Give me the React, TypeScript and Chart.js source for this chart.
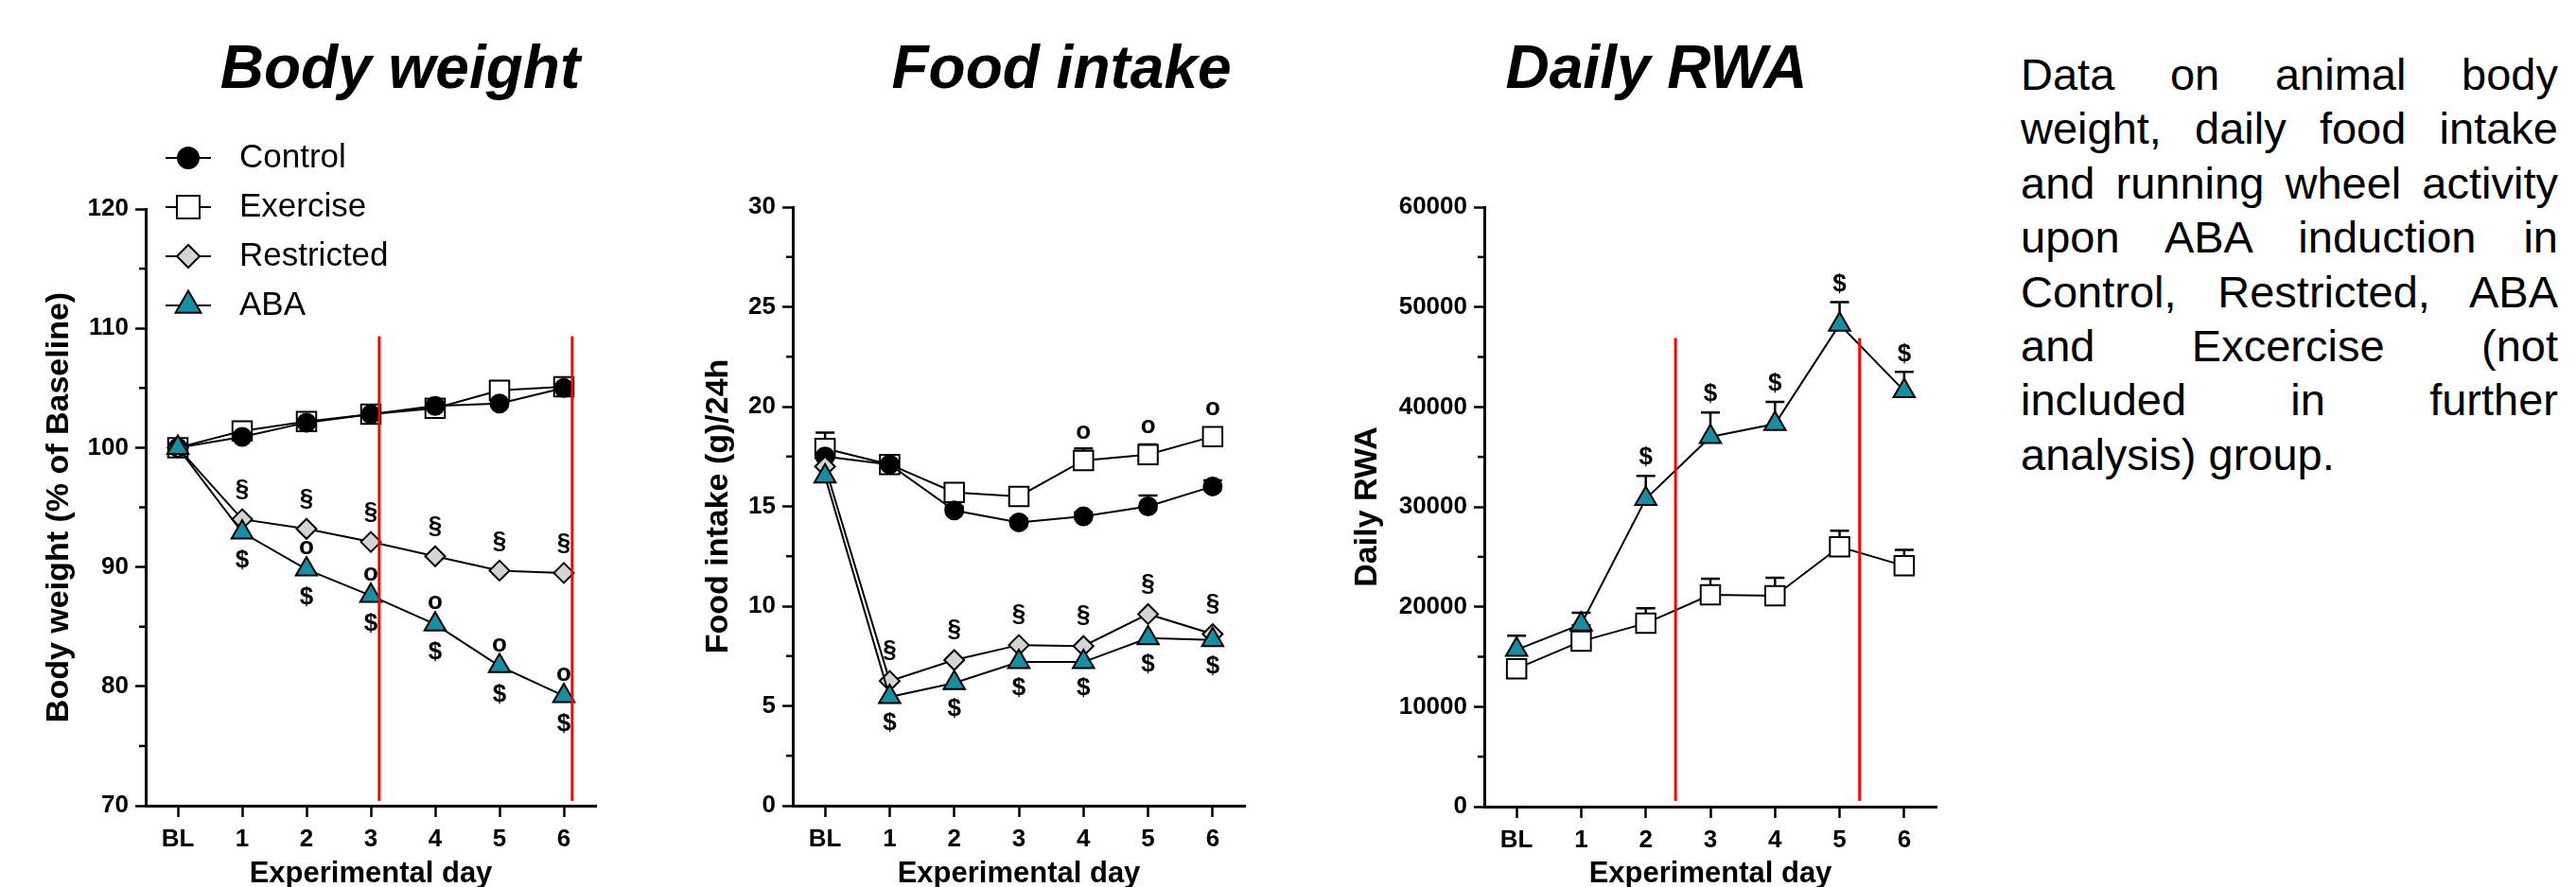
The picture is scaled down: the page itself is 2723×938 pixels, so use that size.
import React, { useEffect, useRef } from 'react';
import { Chart, registerables } from 'chart.js';
import { drawPoint } from 'chart.js/helpers';

Chart.register(...registerables);

const FONT = "'Liberation Sans', Arial, Helvetica, sans-serif";
Chart.defaults.font.family = FONT;
Chart.defaults.color = '#000';

// ---------- data ----------
const days = ['BL', '1', '2', '3', '4', '5', '6'];
const groups = ['Control', 'Exercise', 'Restricted', 'ABA'];

// Body weight (% of baseline)
const bwControl = [100, 100.9, 102.1, 102.8, 103.5, 103.7, 105.0];
const bwExercise = [100, 101.4, 102.2, 102.8, 103.3, 104.8, 105.1];
const bwRestricted = [100, 94.0, 93.2, 92.1, 90.9, 89.7, 89.5];
const bwAba = [100, 92.9, 89.8, 87.6, 85.2, 81.7, 79.2];
const bwRestrictedSig = ['', '§', '§', '§', '§', '§', '§'];
const bwAbaVsRestrictedSig = ['', '', 'o', 'o', 'o', 'o', 'o'];
const bwAbaSig = ['', '$', '$', '$', '$', '$', '$'];
const bwPhaseDays = [3.13, 6.13];
const bwPhaseSpan = [70.4, 109.35];
const bwMinorTicks = [75, 85, 95, 105, 115];

// Food intake (g)/24h
const fiControl = [17.5, 17.1, 14.8, 14.2, 14.5, 15.0, 16.0];
const fiControlSem = [0.3, 0.2, 0.2, 0.2, 0.2, 0.55, 0.3];
const fiExercise = [17.9, 17.1, 15.7, 15.5, 17.3, 17.6, 18.5];
const fiExerciseSem = [0.8, 0.2, 0.2, 0.2, 0.6, 0.5, 0.3];
const fiRestricted = [17.0, 6.25, 7.3, 8.05, 8.0, 9.6, 8.6];
const fiAba = [16.5, 5.45, 6.15, 7.2, 7.2, 8.4, 8.3];
const fiRestrictedSig = ['', '§', '§', '§', '§', '§', '§'];
const fiAbaSig = ['', '$', '$', '$', '$', '$', '$'];
const fiExerciseSig = ['', '', '', '', 'o', 'o', 'o'];
const fiMinorTicks = [2.5, 7.5, 12.5, 17.5, 22.5, 27.5];

// Daily running wheel activity
const rwaExercise = [13800, 16550, 18350, 21200, 21100, 26000, 24100];
const rwaExerciseSem = [900, 1600, 1500, 1600, 1800, 1600, 1600];
const rwaAba = [15700, 18250, 30800, 37000, 38300, 48250, 41600];
const rwaAbaSem = [1400, 1150, 2300, 2450, 2200, 2250, 1900];
const rwaAbaSig = ['', '', '$', '$', '$', '$', '$'];
const rwaPhaseDays = [2.46, 5.31];
const rwaPhaseSpan = [570, 46900];
const rwaMinorTicks = [5000, 15000, 25000, 35000, 45000, 55000];

// ---------- styles ----------
const STYLE: Record<string, any> = {
  Control: { pointStyle: 'circle', fill: '#000000', r: 9.5, lr: 11, order: 2 },
  Exercise: { pointStyle: 'rect', fill: '#ffffff', r: 14.5, lr: 17, order: 3 },
  Restricted: { pointStyle: 'rectRot', fill: '#d4d4d4', r: 10.5, lr: 12, order: 1 },
  ABA: { pointStyle: 'triangle', fill: '#178ea3', r: 13, lr: 15.5, order: 0 },
};

function lineDataset(name: string, data: number[]) {
  const s = STYLE[name];
  return {
    label: name,
    data,
    borderColor: '#000',
    borderWidth: 2,
    tension: 0,
    fill: false,
    pointStyle: s.pointStyle,
    pointRadius: s.r,
    pointHoverRadius: s.r,
    pointBackgroundColor: s.fill,
    pointBorderColor: '#000',
    pointBorderWidth: 2,
    order: s.order,
    legendRadius: s.lr,
  };
}

type Overlay = {
  red?: { days: number[]; span: number[] };
  marks?: { values: number[]; labels: string[]; dy: number }[];
  errors?: { values: number[]; sem: number[] }[];
  minor?: number[];
  legend?: boolean;
};

function overlayPlugin(ov: Overlay) {
  return {
    id: 'overlay',
    beforeDatasetsDraw(chart: any) {
      const { ctx } = chart;
      const x = chart.scales.x;
      const y = chart.scales.y;
      ctx.save();
      ctx.strokeStyle = '#000';
      ctx.lineWidth = 2.5;
      (ov.errors || []).forEach((e) => {
        e.values.forEach((v, i) => {
          const s = e.sem[i];
          if (!s) return;
          const px = x.getPixelForValue(i);
          const y0 = y.getPixelForValue(v);
          const y1 = y.getPixelForValue(v + s);
          ctx.beginPath();
          ctx.moveTo(px, y0);
          ctx.lineTo(px, y1);
          ctx.moveTo(px - 10, y1);
          ctx.lineTo(px + 10, y1);
          ctx.stroke();
        });
      });
      ctx.restore();
    },
    afterDatasetsDraw(chart: any) {
      const { ctx } = chart;
      const x = chart.scales.x;
      const y = chart.scales.y;
      ctx.save();
      if (ov.red) {
        ctx.strokeStyle = '#ff0000';
        ctx.lineWidth = 3;
        ov.red.days.forEach((d) => {
          const px = x.getPixelForValue(d);
          ctx.beginPath();
          ctx.moveTo(px, y.getPixelForValue(ov.red!.span[0]));
          ctx.lineTo(px, y.getPixelForValue(ov.red!.span[1]));
          ctx.stroke();
        });
      }
      ctx.fillStyle = '#000';
      ctx.font = `bold 26px ${FONT}`;
      ctx.textAlign = 'center';
      ctx.textBaseline = 'middle';
      (ov.marks || []).forEach((m) => {
        m.labels.forEach((lab, i) => {
          if (!lab) return;
          ctx.fillText(lab, x.getPixelForValue(i), y.getPixelForValue(m.values[i]) + m.dy);
        });
      });
      ctx.restore();
    },
    afterDraw(chart: any) {
      const { ctx, chartArea } = chart;
      const y = chart.scales.y;
      ctx.save();
      ctx.strokeStyle = '#000';
      ctx.lineWidth = 2.5;
      (ov.minor || []).forEach((v) => {
        const py = y.getPixelForValue(v);
        ctx.beginPath();
        ctx.moveTo(chartArea.left - 7, py);
        ctx.lineTo(chartArea.left, py);
        ctx.stroke();
      });
      if (ov.legend) {
        chart.data.datasets.forEach((ds: any, i: number) => {
          const yy = 167 + i * 52;
          ctx.strokeStyle = '#000';
          ctx.lineWidth = 2;
          ctx.beginPath();
          ctx.moveTo(175, yy);
          ctx.lineTo(223, yy);
          ctx.stroke();
          ctx.fillStyle = ds.pointBackgroundColor;
          drawPoint(ctx, { pointStyle: ds.pointStyle, radius: ds.legendRadius, borderWidth: 2, rotation: 0 } as any, 199, yy);
          ctx.fillStyle = '#000';
          ctx.font = `35px ${FONT}`;
          ctx.textAlign = 'left';
          ctx.textBaseline = 'middle';
          ctx.fillText(ds.label, 253, yy);
        });
      }
      ctx.restore();
    },
  };
}

type Spec = {
  datasets: any[];
  yMin: number;
  yMax: number;
  yStep: number;
  yTitle: string;
  yTitleX: number;
  area: { left: number; right: number; top: number; bottom: number };
  w: number;
  h: number;
  overlay: Overlay;
};

function buildConfig(s: Spec): any {
  return {
    type: 'line',
    data: { labels: days, datasets: s.datasets },
    plugins: [overlayPlugin(s.overlay)],
    options: {
      responsive: false,
      animation: false,
      events: [],
      layout: { padding: { left: 0, right: s.w - s.area.right, top: s.area.top, bottom: 0 } },
      plugins: { legend: { display: false }, tooltip: { enabled: false }, title: { display: false } },
      scales: {
        x: {
          type: 'category',
          offset: true,
          grid: { display: true, drawOnChartArea: false, drawTicks: true, tickLength: 12, tickWidth: 2.5, tickColor: '#000', offset: false },
          border: { display: true, color: '#000', width: 3 },
          ticks: { color: '#000', font: { size: 26, weight: 'bold' }, padding: 8.4, maxRotation: 0, autoSkip: false },
          title: { display: true, text: 'Experimental day', color: '#000', font: { size: 31, weight: 'bold' }, padding: { top: 0, bottom: 7.4 } },
          afterFit: (sc: any) => { sc.height = s.h - s.area.bottom; },
        },
        y: {
          type: 'linear',
          min: s.yMin,
          max: s.yMax,
          grid: { display: true, drawOnChartArea: false, drawTicks: true, tickLength: 11, tickWidth: 2.5, tickColor: '#000' },
          border: { display: true, color: '#000', width: 3 },
          ticks: { stepSize: s.yStep, color: '#000', font: { size: 26, weight: 'bold' }, padding: 7, callback: (v: any) => String(v) },
          title: { display: true, text: s.yTitle, color: '#000', font: { size: 34, weight: 'bold' }, padding: { top: s.yTitleX - 20.4, bottom: 0 } },
          afterFit: (sc: any) => { sc.width = s.area.left; },
        },
      },
    },
  };
}

function ChartCanvas({ left, spec }: { left: number; spec: Spec }) {
  const ref = useRef<HTMLCanvasElement>(null);
  useEffect(() => {
    const chart = new Chart(ref.current as HTMLCanvasElement, buildConfig(spec));
    return () => chart.destroy();
  }, []);
  return (
    <canvas
      ref={ref}
      width={spec.w}
      height={spec.h}
      style={{ position: 'absolute', left, top: 0, width: spec.w, height: spec.h }}
    />
  );
}

const CANVAS_W = 700;
const CANVAS_H = 950;

const bwSpec: Spec = {
  datasets: [
    lineDataset(groups[0], bwControl),
    lineDataset(groups[1], bwExercise),
    lineDataset(groups[2], bwRestricted),
    lineDataset(groups[3], bwAba),
  ],
  yMin: 70, yMax: 120, yStep: 10,
  yTitle: 'Body weight (% of Baseline)', yTitleX: 63,
  area: { left: 154, right: 630, top: 221, bottom: 852 },
  w: CANVAS_W, h: CANVAS_H,
  overlay: {
    red: { days: bwPhaseDays, span: bwPhaseSpan },
    marks: [
      { values: bwRestricted, labels: bwRestrictedSig, dy: -31 },
      { values: bwAba, labels: bwAbaVsRestrictedSig, dy: -23 },
      { values: bwAba, labels: bwAbaSig, dy: 30 },
    ],
    minor: bwMinorTicks,
    legend: true,
  },
};

const fiSpec: Spec = {
  datasets: [
    lineDataset(groups[0], fiControl),
    lineDataset(groups[1], fiExercise),
    lineDataset(groups[2], fiRestricted),
    lineDataset(groups[3], fiAba),
  ],
  yMin: 0, yMax: 30, yStep: 5,
  yTitle: 'Food intake (g)/24h', yTitleX: 60,
  area: { left: 138, right: 616, top: 219, bottom: 852 },
  w: CANVAS_W, h: CANVAS_H,
  overlay: {
    errors: [
      { values: fiControl, sem: fiControlSem },
      { values: fiExercise, sem: fiExerciseSem },
    ],
    marks: [
      { values: fiRestricted, labels: fiRestrictedSig, dy: -32 },
      { values: fiAba, labels: fiAbaSig, dy: 28 },
      { values: fiExercise, labels: fiExerciseSig, dy: -30 },
    ],
    minor: fiMinorTicks,
  },
};

const rwaAbaTop = rwaAba.map((v, i) => v + rwaAbaSem[i]);

const rwaSpec: Spec = {
  datasets: [
    lineDataset(groups[1], rwaExercise),
    lineDataset(groups[3], rwaAba),
  ],
  yMin: 0, yMax: 60000, yStep: 10000,
  yTitle: 'Daily RWA', yTitleX: 46,
  area: { left: 169, right: 647, top: 219, bottom: 853 },
  w: CANVAS_W, h: CANVAS_H,
  overlay: {
    red: { days: rwaPhaseDays, span: rwaPhaseSpan },
    errors: [
      { values: rwaExercise, sem: rwaExerciseSem },
      { values: rwaAba, sem: rwaAbaSem },
    ],
    marks: [{ values: rwaAbaTop, labels: rwaAbaSig, dy: -19 }],
    minor: rwaMinorTicks,
  },
};

const titleStyle = (cx: number): React.CSSProperties => ({
  position: 'absolute',
  left: cx,
  top: 39,
  transform: 'translateX(-50%)',
  font: `italic bold 64px ${FONT}`,
  lineHeight: '64px',
  whiteSpace: 'nowrap',
  color: '#000',
});

export default function App() {
  return (
    <div
      style={{
        position: 'fixed', left: 0, top: 0, width: 2723, height: 938,
        overflow: 'hidden', background: '#fff',
      }}
    >
      <div style={titleStyle(423)}>Body weight</div>
      <div style={titleStyle(1122)}>Food intake</div>
      <div style={titleStyle(1751)}>Daily RWA</div>
      <ChartCanvas left={0} spec={bwSpec} />
      <ChartCanvas left={700} spec={fiSpec} />
      <ChartCanvas left={1400} spec={rwaSpec} />
      <div
        style={{
          position: 'absolute', left: 2136, top: 50, width: 568,
          font: `47px ${FONT}`, lineHeight: '57.4px', textAlign: 'justify', color: '#000',
        }}
      >
        Data on animal body weight, daily food intake and running wheel activity upon ABA induction in Control, Restricted, ABA and Excercise (not included in further analysis) group.
      </div>
    </div>
  );
}
